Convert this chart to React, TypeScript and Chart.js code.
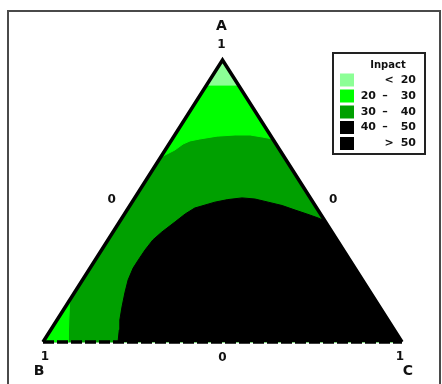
import React, { useEffect, useRef } from "react";
import { Chart, registerables } from "chart.js";

Chart.register(...registerables);

// Ternary compositions [A, B, C]
type T = [number, number, number];

const vertexA: T = [1, 0, 0];
const vertexB: T = [0, 1, 0];
const vertexC: T = [0, 0, 1];

// Impact < 20 (cap near A)
const regionBelow20: T[] = [
  [1, 0, 0],
  [0.911, 0.089, 0],
  [0.911, 0, 0.089],
];

// Impact 20 - 30 (upper band, bounded by contour 30)
const regionUpper20to30: T[] = [
  [1, 0, 0],
  [0.655, 0.345, 0],
  [0.681, 0.292, 0.027],
  [0.702, 0.259, 0.039],
  [0.713, 0.234, 0.053],
  [0.72, 0.203, 0.077],
  [0.73, 0.15, 0.12],
  [0.734, 0.098, 0.168],
  [0.734, 0.056, 0.21],
  [0.727, 0.026, 0.247],
  [0.72, 0, 0.28],
];

// Impact 20 - 30 (small corner near B)
const regionCorner20to30: T[] = [
  [0, 1, 0],
  [0.149, 0.851, 0],
  [0.078, 0.889, 0.033],
  [0, 0.93, 0.07],
];

// Impact > 40 (black area, contour 40)
const regionAbove40: T[] = [
  [0, 0.791, 0.209],
  [0.043, 0.766, 0.191],
  [0.078, 0.747, 0.175],
  [0.124, 0.718, 0.158],
  [0.174, 0.685, 0.141],
  [0.22, 0.653, 0.127],
  [0.262, 0.618, 0.12],
  [0.291, 0.589, 0.12],
  [0.326, 0.553, 0.121],
  [0.362, 0.513, 0.125],
  [0.39, 0.474, 0.136],
  [0.426, 0.419, 0.155],
  [0.454, 0.377, 0.169],
  [0.475, 0.34, 0.185],
  [0.496, 0.273, 0.231],
  [0.505, 0.233, 0.262],
  [0.511, 0.19, 0.299],
  [0.507, 0.156, 0.337],
  [0.496, 0.125, 0.379],
  [0.484, 0.092, 0.424],
  [0.468, 0.064, 0.468],
  [0.454, 0.038, 0.508],
  [0.44, 0.014, 0.546],
  [0.429, 0, 0.571],
  [0, 0, 1],
];

const legendTitle = "Inpact";
const legendLeft = ["", "20", "30", "40", ""];
const legendSign = ["<", "–", "–", "–", ">"];
const legendRight = ["20", "30", "40", "50", "50"];
const legendColors = ["#8cff96", "#00ff00", "#00a000", "#000000", "#000000"];

const vertexNames = ["A", "B", "C"];
const vertexTicks = ["1", "1", "1"];
const edgeTicks = ["0", "0", "0"];

const toXY = (t: T) => ({ x: t[2] + t[0] / 2, y: t[0] });

const poly = (pts: T[], color: string, order: number) => ({
  data: pts.map(toXY),
  backgroundColor: color,
  borderColor: color,
  borderWidth: 1,
  pointRadius: 0,
  fill: "shape",
  tension: 0,
  order,
  clip: false as any,
});

const decorPlugin = {
  id: "decor",
  beforeDraw(chart: any) {
    const ctx = chart.ctx;
    ctx.save();
    ctx.fillStyle = "#ffffff";
    ctx.fillRect(0, 0, chart.width, chart.height);
    ctx.strokeStyle = "#4a4a4a";
    ctx.lineWidth = 2;
    ctx.strokeRect(8, 11, 432, 390);
    ctx.restore();
  },
  afterDraw(chart: any) {
    const ctx = chart.ctx;
    const xs = chart.scales.x;
    const ys = chart.scales.y;
    const px = (t: T) => {
      const p = toXY(t);
      return [xs.getPixelForValue(p.x), ys.getPixelForValue(p.y)];
    };
    ctx.save();
    ctx.fillStyle = "#111";
    ctx.textAlign = "center";
    ctx.textBaseline = "middle";
    // vertex A
    const [ax, ay] = px(vertexA);
    ctx.font = "bold 14px 'DejaVu Sans'";
    ctx.fillText(vertexNames[0], ax - 1, ay - 34);
    ctx.font = "bold 12px 'DejaVu Sans'";
    ctx.fillText(vertexTicks[0], ax - 1, ay - 15);
    // vertex B
    const [bx, by] = px(vertexB);
    ctx.font = "bold 14px 'DejaVu Sans'";
    ctx.fillText(vertexNames[1], bx - 4, by + 29);
    ctx.font = "bold 12px 'DejaVu Sans'";
    ctx.fillText(vertexTicks[1], bx + 2, by + 15);
    // vertex C
    const [cx, cy] = px(vertexC);
    ctx.font = "bold 14px 'DejaVu Sans'";
    ctx.fillText(vertexNames[2], cx + 6, cy + 29);
    ctx.font = "bold 12px 'DejaVu Sans'";
    ctx.fillText(vertexTicks[2], cx - 2, cy + 15);
    // edge ticks
    ctx.font = "bold 12px 'DejaVu Sans'";
    const [lx, ly] = px([0.5, 0.5, 0]);
    ctx.fillText(edgeTicks[0], lx - 21, ly - 1);
    const [rx, ry] = px([0.5, 0, 0.5]);
    ctx.fillText(edgeTicks[1], rx + 21, ry - 1);
    const [mx, my] = px([0, 0.5, 0.5]);
    ctx.fillText(edgeTicks[2], mx, my + 16);

    // legend
    ctx.fillStyle = "#ffffff";
    ctx.fillRect(333, 53, 92, 101);
    ctx.strokeStyle = "#222";
    ctx.lineWidth = 2;
    ctx.strokeRect(333, 53, 92, 101);
    ctx.fillStyle = "#111";
    ctx.font = "bold 10px 'DejaVu Sans'";
    ctx.textAlign = "center";
    ctx.fillText(legendTitle, 388, 65);
    const rows = [80, 96, 112, 127.5, 143.5];
    for (let i = 0; i < legendColors.length; i++) {
      const y = rows[i];
      ctx.fillStyle = legendColors[i];
      ctx.fillRect(340, y - 6.5, 14, 13);
      ctx.fillStyle = "#111";
      ctx.font = "bold 11px 'DejaVu Sans'";
      ctx.textAlign = "right";
      if (legendLeft[i]) ctx.fillText(legendLeft[i], 376, y);
      ctx.fillText(legendRight[i], 416, y);
      ctx.textAlign = "center";
      ctx.fillText(legendSign[i], i === 0 || i === 4 ? 389 : 385, y);
    }
    ctx.restore();
  },
};

export default function App() {
  const ref = useRef<HTMLCanvasElement | null>(null);
  useEffect(() => {
    if (!ref.current) return;
    const chart = new Chart(ref.current, {
      type: "line",
      data: {
        datasets: [
          poly([vertexA, vertexB, vertexC], "#00a000", 10),
          poly(regionUpper20to30, "#00ff00", 8),
          poly(regionBelow20, "#8cff96", 7),
          poly(regionCorner20to30, "#00ff00", 6),
          poly(regionAbove40, "#000000", 5),
          {
            data: [vertexB, vertexA, vertexC].map(toXY),
            borderColor: "#000",
            borderWidth: 3.5,
            pointRadius: 0,
            fill: false,
            tension: 0,
            order: 1,
            clip: false as any,
          },
          {
            data: [vertexB, vertexC].map(toXY),
            borderColor: "#000",
            borderWidth: 3.5,
            borderDash: [11, 3],
            pointRadius: 0,
            fill: false,
            tension: 0,
            order: 0,
            clip: false as any,
          },
        ] as any,
      },
      options: {
        animation: false,
        responsive: false,
        devicePixelRatio: 1,
        layout: { padding: { left: 43, right: 40, top: 60, bottom: 42 } },
        scales: {
          x: { type: "linear", min: 0, max: 1, display: false },
          y: { type: "linear", min: 0, max: 1, display: false },
        },
        plugins: {
          legend: { display: false },
          tooltip: { enabled: false },
        },
        events: [],
      },
      plugins: [decorPlugin],
    });
    return () => chart.destroy();
  }, []);
  return (
    <div style={{ position: "absolute", left: 0, top: 0, width: 442, height: 384 }}>
      <canvas ref={ref} width={442} height={384} style={{ display: "block" }} />
    </div>
  );
}
